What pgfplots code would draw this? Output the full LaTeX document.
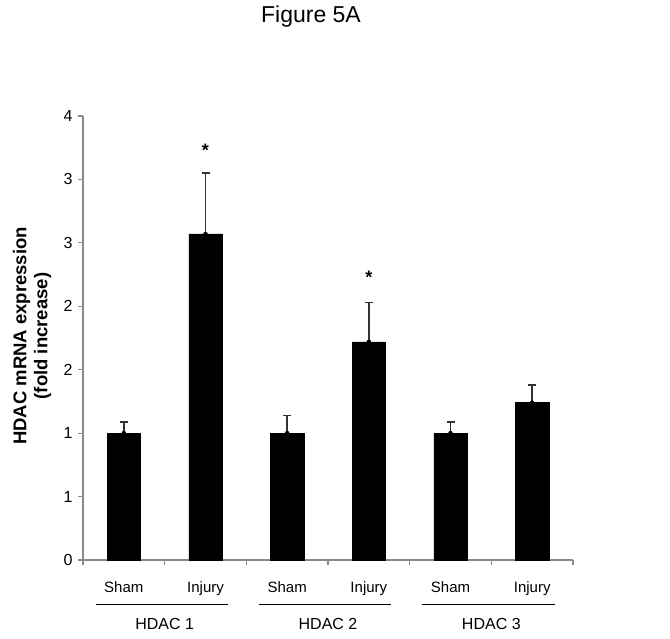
\documentclass[border=0pt]{standalone}
\usepackage{pgfplots}
\pgfplotsset{compat=1.18}
\usepackage{fontspec}
\setmainfont{Liberation Sans}
\definecolor{axgray}{HTML}{8A8A8A}
\definecolor{errgray}{HTML}{333333}
\begin{document}
\begin{tikzpicture}
\useasboundingbox (0,0) rectangle (670pt,638pt);
\begin{axis}[
  at={(83pt,78pt)}, anchor=south west,
  scale only axis, width=490pt, height=444pt,
  xmin=0, xmax=6, ymin=0, ymax=3.5,
  axis x line*=bottom, axis y line*=left,
  axis line style={draw=axgray, line width=1.1pt, -},
  xtick={0,1,...,6}, xticklabels={},
  ytick={0,0.5,...,3.5}, yticklabels={0,1,1,2,2,3,3,4},
  tick align=outside, major tick length=5pt,
  tick style={draw=axgray, line width=1.1pt},
  /pgf/number format/assume math mode=true,
  yticklabel style={font=\fontsize{16}{19}\selectfont, xshift=-2pt},
  clip=false,
]
\addplot[ybar, bar width=0.41, fill=black, draw=black] coordinates {
    (0.5,1.00) (1.5,2.57) (2.5,1.00) (3.5,1.72) (4.5,1.00) (5.5,1.24)
  };
\addplot[only marks, mark=none, forget plot,
  error bars/.cd, y dir=plus, y explicit,
  error bar style={draw=errgray, line width=1.6pt},
  error mark=|,
  error mark options={draw=errgray, line width=1.6pt, mark size=4pt}]
  coordinates {
    (0.5,1.00) +- (0,0.09)
    (1.5,2.57) +- (0,0.48)
    (2.5,1.00) +- (0,0.14)
    (3.5,1.72) +- (0,0.31)
    (4.5,1.00) +- (0,0.09)
    (5.5,1.24) +- (0,0.14)
  };
\node[anchor=base, font=\fontsize{18}{20}\selectfont\bfseries] at (axis cs:1.5,3.18) {*};
\node[anchor=base, font=\fontsize{18}{20}\selectfont\bfseries] at (axis cs:3.5,2.18) {*};
\node[anchor=base, font=\fontsize{15}{18}\selectfont] at ([yshift=-32pt]axis cs:0.5,0) {Sham};
\node[anchor=base, font=\fontsize{15}{18}\selectfont] at ([yshift=-32pt]axis cs:1.5,0) {Injury};
\node[anchor=base, font=\fontsize{15}{18}\selectfont] at ([yshift=-32pt]axis cs:2.5,0) {Sham};
\node[anchor=base, font=\fontsize{15}{18}\selectfont] at ([yshift=-32pt]axis cs:3.5,0) {Injury};
\node[anchor=base, font=\fontsize{15}{18}\selectfont] at ([yshift=-32pt]axis cs:4.5,0) {Sham};
\node[anchor=base, font=\fontsize{15}{18}\selectfont] at ([yshift=-32pt]axis cs:5.5,0) {Injury};
\draw[black, line width=0.9pt] ([yshift=-44pt]axis cs:0.16,0) -- ([yshift=-44pt]axis cs:1.77,0);
\draw[black, line width=0.9pt] ([yshift=-44pt]axis cs:2.15,0) -- ([yshift=-44pt]axis cs:3.77,0);
\draw[black, line width=0.9pt] ([yshift=-44pt]axis cs:4.15,0) -- ([yshift=-44pt]axis cs:5.78,0);
\node[anchor=base, font=\fontsize{16}{19}\selectfont] at ([yshift=-69pt]axis cs:1,0) {HDAC 1};
\node[anchor=base, font=\fontsize{16}{19}\selectfont] at ([yshift=-69pt]axis cs:3,0) {HDAC 2};
\node[anchor=base, font=\fontsize{16}{19}\selectfont] at ([yshift=-69pt]axis cs:5,0) {HDAC 3};
\end{axis}
\node[font=\fontsize{23}{27}\selectfont] at (311pt,621pt) {Figure 5A};
\node[rotate=90, align=center, font=\fontsize{18.5}{21}\selectfont\bfseries] at (32pt,302pt) {HDAC mRNA expression\\(fold increase)};
\end{tikzpicture}
\end{document}
